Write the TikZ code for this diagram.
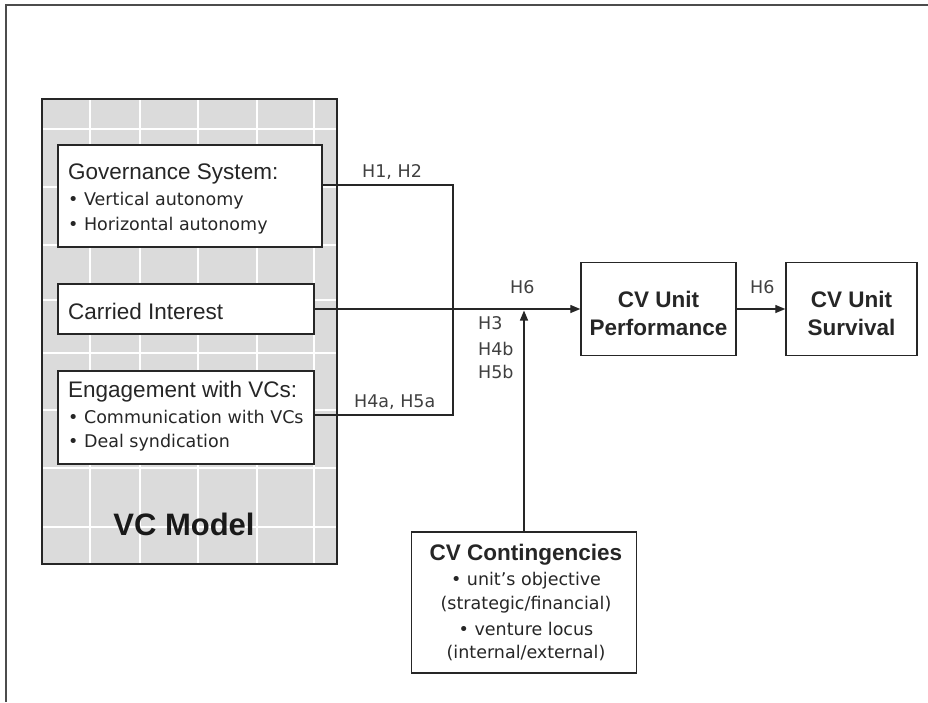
\documentclass[tikz,border=0pt]{standalone}
\usepackage{fontspec}
\setmainfont{Liberation Sans}
\newfontfamily\dv{DejaVu Sans}
\usetikzlibrary{arrows.meta,calc}
\begin{document}
\begin{tikzpicture}[x=1pt,y=-1pt,
  box/.style={draw=black!85, line width=1.4pt, fill=white, inner sep=0pt},
  hdr/.style={font=\fontsize{22.5}{27}\selectfont, inner sep=0pt, anchor=base west, text=black!85},
  bul/.style={font=\dv\fontsize{17.5}{21}\selectfont, inner sep=0pt, anchor=base west, text=black!85},
  lbl/.style={font=\dv\fontsize{17.5}{21}\selectfont, inner sep=0pt, anchor=base west, text=black!75},
  bhdr/.style={font=\bfseries\fontsize{22.5}{27}\selectfont, inner sep=0pt, anchor=base, text=black!85},
  cbul/.style={font=\dv\fontsize{17.5}{21}\selectfont, inner sep=0pt, anchor=base, text=black!85},
  conn/.style={draw=black!85, line width=1.3pt},
  arr/.style={-{Triangle[length=10pt,width=8pt]}}
]
\useasboundingbox (0,0) rectangle (928,702);
% outer frame
\draw[gray!60!black, line width=1.6pt] (6,702) -- (6,5) -- (928,5);
% VC model panel
\fill[black!14] (42,99) rectangle (337,564);
\foreach \gx in {90,140,198,257,314}
  \draw[white, line width=1.3pt] (\gx,99) -- (\gx,564);
\foreach \gy in {129,187,245,300,353,410,468,527}
  \draw[white, line width=1.3pt] (42,\gy) -- (337,\gy);
\draw[black!85, line width=1.4pt] (42,99) rectangle (337,564);
\node[font=\bfseries\fontsize{31}{36}\selectfont, inner sep=0pt, anchor=base, text=black!90] (vcm) at (184,535) {VC Model};
% boxes
\node[box, minimum width=264pt, minimum height=102pt] (gov) at (190,196) {};
\node[box, minimum width=256pt, minimum height=50pt] (car) at (186,309) {};
\node[box, minimum width=256pt, minimum height=93pt] (eng) at (186,417.5) {};
\node[box, minimum width=155pt, minimum height=93pt] (perf) at (658.5,309) {};
\node[box, minimum width=131pt, minimum height=93pt] (surv) at (851.5,309) {};
\node[box, minimum width=225pt, minimum height=141pt] (cont) at (524,602.5) {};
% box texts
\node[hdr] (govh) at (68,179) {Governance System:};
\node[bul] (gov1) at (68,205) {• Vertical autonomy};
\node[bul] (gov2) at (68,230) {• Horizontal autonomy};
\node[hdr] (carh) at (68,319) {Carried Interest};
\node[hdr] (engh) at (68,397) {Engagement with VCs:};
\node[bul] (eng1) at (68,423) {• Communication with VCs};
\node[bul] (eng2) at (68,447) {• Deal syndication};
\node[bhdr] (perf1) at (658.5,307) {CV Unit};
\node[bhdr] (perf2) at (658.5,335) {Performance};
\node[bhdr] (surv1) at (851.5,307) {CV Unit};
\node[bhdr] (surv2) at (851.5,335) {Survival};
\node[bhdr] (conth) at (526,560) {CV Contingencies};
\node[cbul] (cont1) at (526,585) {• unit’s objective};
\node[cbul] (cont2) at (526,609) {(strategic/financial)};
\node[cbul] (cont3) at (526,635) {• venture locus};
\node[cbul] (cont4) at (526,658) {(internal/external)};
% connectors
\coordinate (j1) at (453,185);
\coordinate (j2) at (453,415);
\draw[conn] (gov.east |- j1) -- (j1) -- (j2) -- (eng.east |- j2);
\draw[conn, arr] (car.east) -- (perf.west);
\draw[conn, arr] (perf.east) -- (surv.west);
\draw[conn, arr] (cont.north) -- ($(cont.north |- car.east)+(0,1.5)$);
% labels
\node[lbl] (l12) at (362,177) {H1, H2};
\node[lbl] (l6a) at (510,293) {H6};
\node[lbl] (l3) at (478,329) {H3};
\node[lbl] (l4b) at (478,355) {H4b};
\node[lbl] (l5b) at (478,378) {H5b};
\node[lbl] (l45) at (354,407) {H4a, H5a};
\node[lbl] (l6b) at (750,293) {H6};
\end{tikzpicture}
\end{document}
